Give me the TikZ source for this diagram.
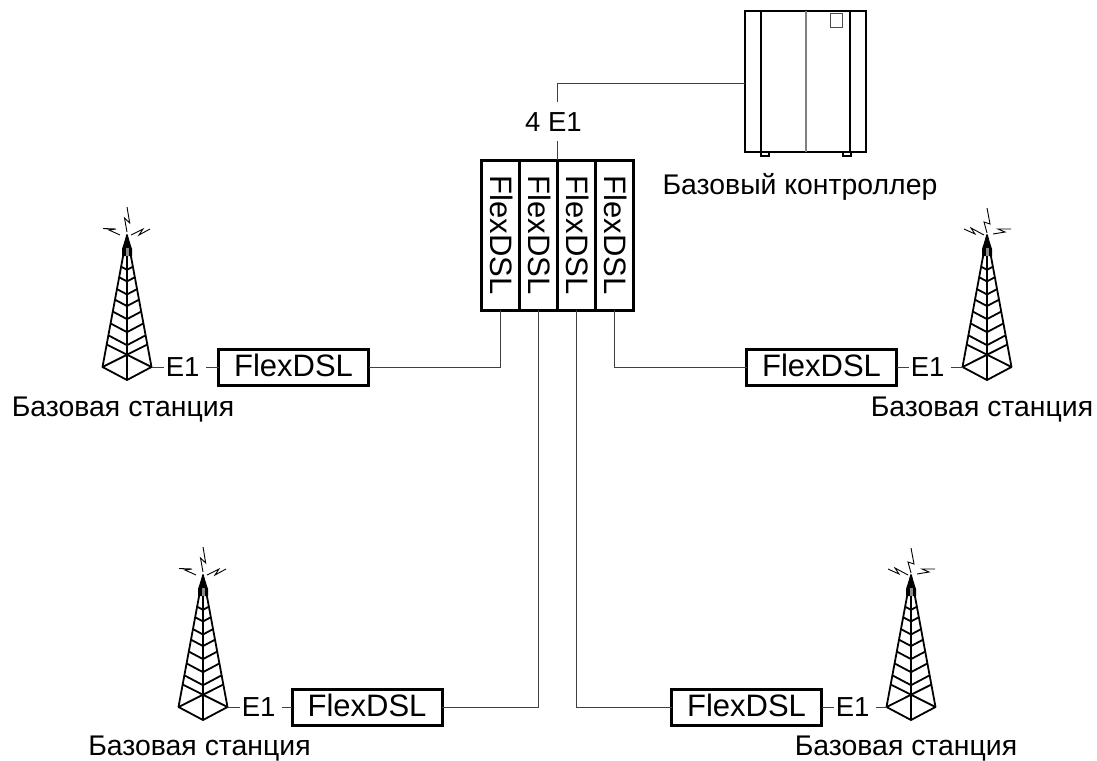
\documentclass[tikz,border=0pt]{standalone}
\usepackage{fontspec}
\setmainfont{Liberation Sans}
\tikzset{
    pics/mast/.style={code={
        \coordinate (-left) at (-24.5,132);
        \coordinate (-right) at (24.5,132);
        \coordinate (-foot) at (0,145);
        \draw[mastline] (0,0) -- (-left) -- (-foot) -- (-right) -- cycle;
        \draw[mastline] (0,0) -- (-foot);
        \foreach \t in {.24,.32,.41,.49,.58,.67,.76}
            \draw[mastline] (-24.5*\t,132*\t) -- (0,145*\t) -- (24.5*\t,132*\t);
        \draw[mastline] (-left) -- (24.5*.83,132*.83);
        \draw[mastline] (-right) -- (-24.5*.83,132*.83);
        \fill (-1.5,3) -- (0,0) -- (1.5,3) -- (5,14) -- (5,21) -- (-5,21) -- (-5,14) -- cycle;
        \fill[black!45] (-1.5,13) rectangle (1.5,21);
    }},
    pics/boltsleft/.style={code={
        \draw[boltline] (0,-3) -- (-2.5,-17) -- (2.7,-12) -- (0,-28);
        \draw[boltline] (-7,0) -- (-18,-5) -- (-11,-6) -- (-24,-6.5);
        \draw[boltline] (4,0) -- (16,-6) -- (12,0) -- (23,-6);
    }},
    pics/boltsright/.style={code={
        \draw[boltline] (0,-2) -- (-3,-13) -- (3,-11) -- (0,-27);
        \draw[boltline] (-3,0) -- (-16,-7) -- (-12,-1) -- (-23,-6);
        \draw[boltline] (6,-1) -- (18,-3) -- (11,-6) -- (24,-6);
    }}
}
\begin{document}
\begin{tikzpicture}[
    x=1pt, y=-1pt,
    modem/.style={
        rectangle, draw=black, line width=3pt, outer sep=0pt,
        minimum width=150pt, minimum height=36pt, inner sep=0pt,
        text depth=5pt, font=\fontsize{31}{36}\selectfont
    },
    slot/.style={modem, rotate=-90, minimum height=38pt, text depth=3pt},
    rate/.style={anchor=base, inner sep=2pt, outer sep=0pt, font=\fontsize{27.5}{33}\selectfont},
    caption/.style={anchor=base, inner sep=0pt, font=\fontsize{28.4}{34}\selectfont},
    wire/.style={line width=1pt, black!75},
    tail/.style={wire, shorten <=4.5pt},
    mastline/.style={line width=1.8pt, line join=round},
    boltline/.style={line width=0.9pt}
]
\useasboundingbox (0,0) rectangle (1097,760);

% Controller
\node[draw=black, line width=1.6pt, outer sep=0pt, inner sep=0pt,
      minimum width=121pt, minimum height=141pt] (bsc) at (805.5,81.5) {};
\draw[line width=2pt] (761,11) -- (761,152);
\draw[line width=2pt] (850,11) -- (850,152);
\draw[line width=1.3pt, black!50] (806,11) -- (806,152);
\draw[line width=1pt, black!70] (830,13.5) rectangle (842,28);
\draw[line width=1.3pt] (761,152) rectangle (769,156);
\draw[line width=1.3pt] (843,152) rectangle (851,156);
\node[caption] (bsclabel) at (800,194) {Базовый контроллер};

% Shelf
\node[slot] (slotA) at (500,235) {FlexDSL};
\node[slot] (slotB) at (538,235) {FlexDSL};
\node[slot] (slotC) at (576,235) {FlexDSL};
\node[slot] (slotD) at (614,235) {FlexDSL};
\coordinate (trunk) at (557,160);
\coordinate (bend) at (557,83);
\node[rate, inner ysep=10pt] (trunkrate) at (553.5,131) {4 E1};

% Remote modems
\node[modem] (modemA) at (293.5,367.5) {FlexDSL};
\node[modem] (modemB) at (821.5,367.5) {FlexDSL};
\node[modem] (modemC) at (367,707.5) {FlexDSL};
\node[modem] (modemD) at (746.5,707.5) {FlexDSL};

% Base stations
\pic (mastA) at (127,235) {mast};
\pic at (127,235) {boltsleft};
\pic (mastB) at (987,235) {mast};
\pic at (987,235) {boltsright};
\pic (mastC) at (203,575) {mast};
\pic at (203,575) {boltsleft};
\pic (mastD) at (911,575) {mast};
\pic at (911,575) {boltsright};
\node[caption] (stationA) at (123,416) {Базовая станция};
\node[caption] (stationB) at (982,416) {Базовая станция};
\node[caption] (stationC) at (199.5,755.5) {Базовая станция};
\node[caption] (stationD) at (906,755.5) {Базовая станция};

% E1 labels
\node[rate] (rateA) at (182.6,376) {E1};
\node[rate] (rateB) at (927.6,376) {E1};
\node[rate] (rateC) at (258.6,716) {E1};
\node[rate] (rateD) at (852.6,716) {E1};

% Links
\draw[wire] (bsc.west |- bend) -- (bend) -- (bend |- trunkrate.north);
\draw[wire] (bend |- trunkrate.south) -- (trunk);
\draw[wire] (slotA.east) |- (modemA.east);
\draw[wire] (slotD.east) |- (modemB.west);
\draw[wire] (slotB.east) |- (modemC.east);
\draw[wire] (slotC.east) |- (modemD.west);
\draw[wire] (mastA-right) -- (rateA.west |- mastA-right);
\draw[tail] (rateA.east |- modemA.west) -- (modemA.west);
\draw[tail] (rateB.east |- mastB-left) -- (mastB-left);
\draw[wire] (modemB.east) -- (rateB.west |- modemB.east);
\draw[wire] (mastC-right) -- (rateC.west |- mastC-right);
\draw[tail] (rateC.east |- modemC.west) -- (modemC.west);
\draw[tail] (rateD.east |- mastD-left) -- (mastD-left);
\draw[wire] (modemD.east) -- (rateD.west |- modemD.east);

\end{tikzpicture}
\end{document}
